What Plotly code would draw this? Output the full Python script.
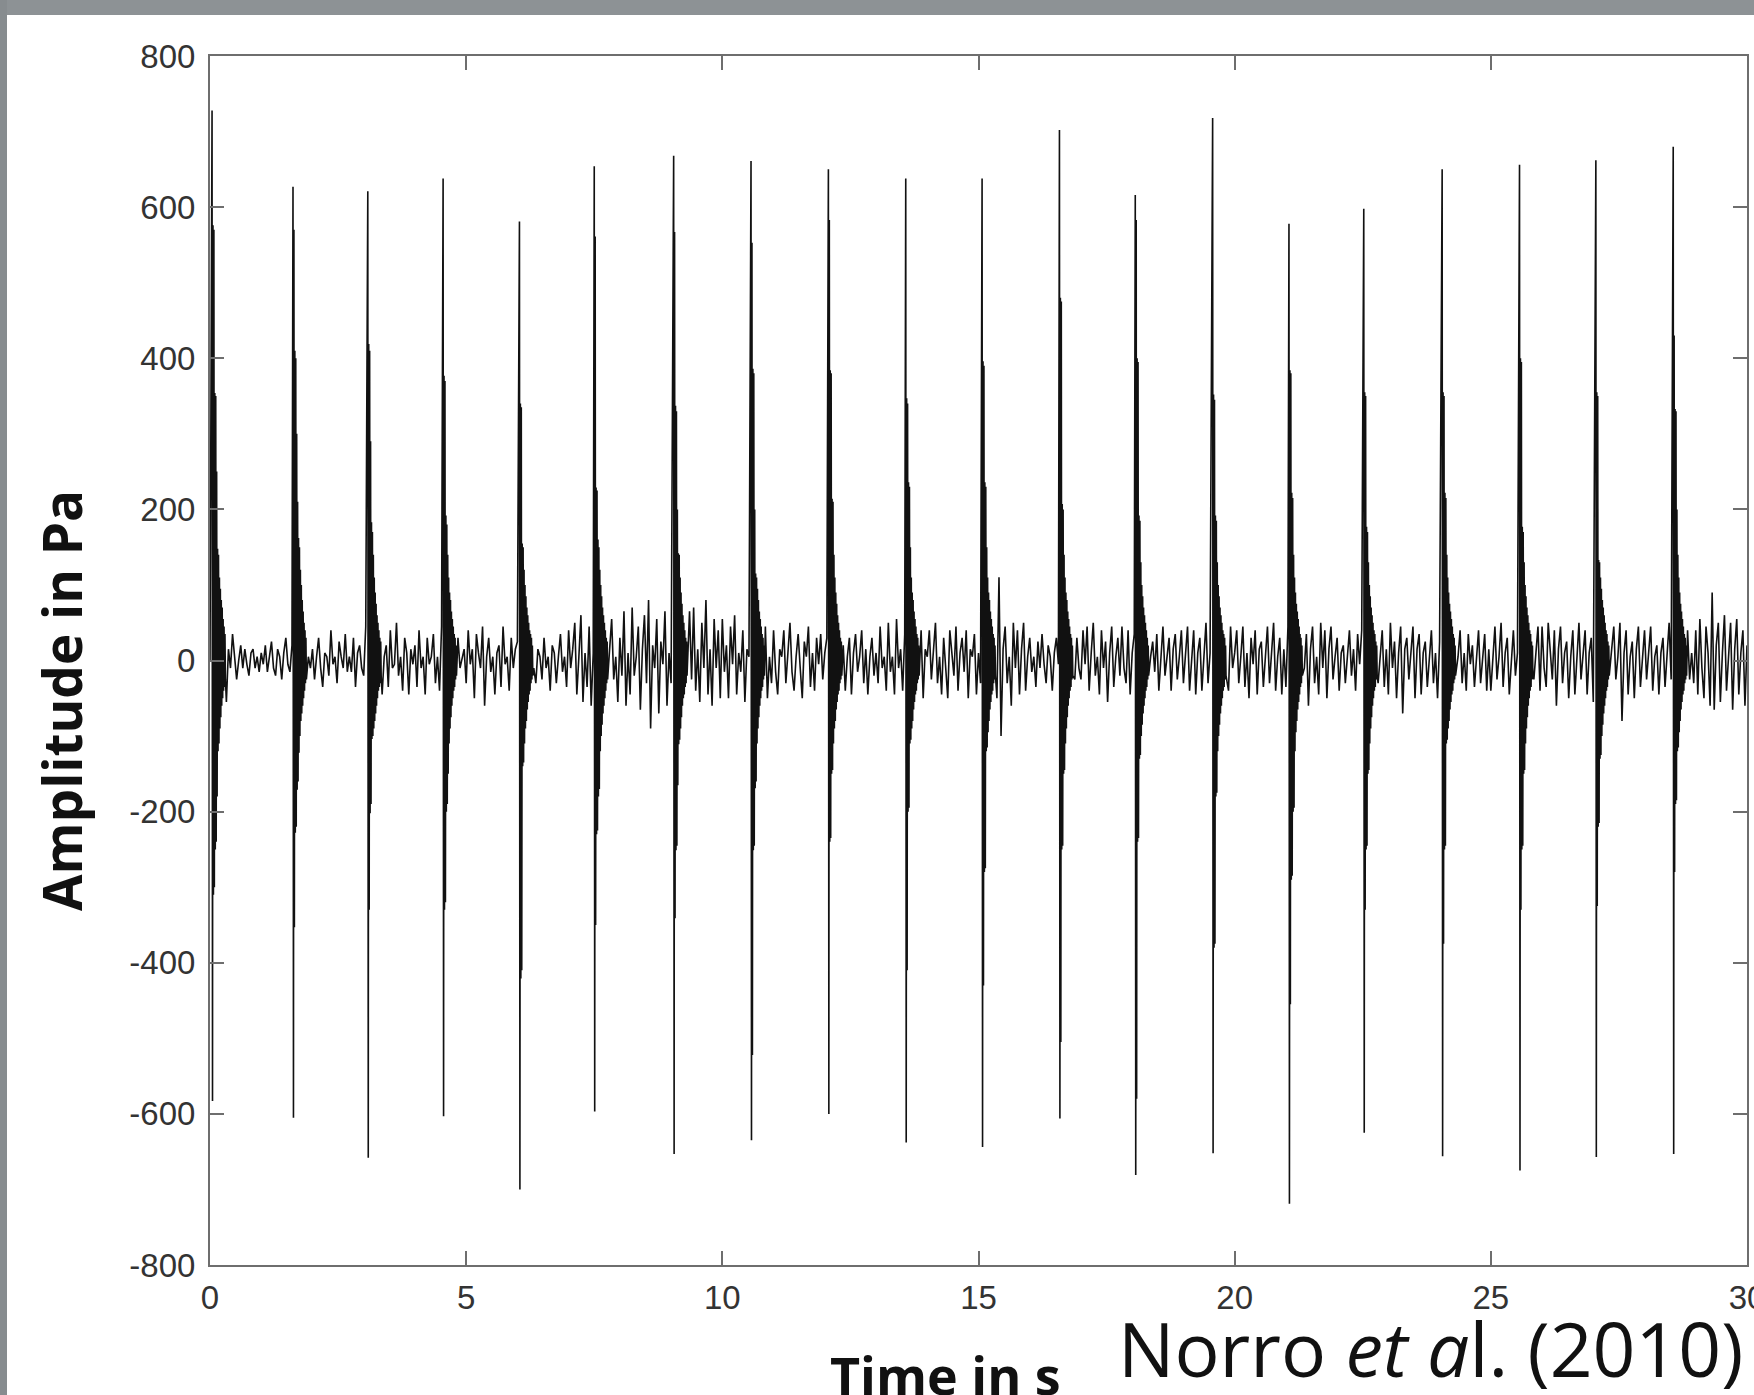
import plotly.graph_objects as go

# ---------------- data ----------------
# explosion (spike) onset times in s
spike_t = [0.04, 1.62, 3.08, 4.55, 6.04, 7.50, 9.05, 10.56, 12.07, 13.58,
           15.07, 16.58, 18.06, 19.57, 21.06, 22.52, 24.05, 25.56, 27.05, 28.56]

# successive positive extremes of each spike coda (Pa)
spike_pos = [
    [728, 576, 570, 354, 350, 250, 148, 140, 110, 95, 80, 70, 55, 45, 35],
    [627, 570, 410, 400, 300, 210, 162, 150, 120, 100, 80, 65, 50, 40, 30],
    [621, 419, 410, 290, 183, 170, 140, 110, 90, 75, 60, 50, 40, 30, 25],
    [638, 377, 370, 192, 180, 140, 110, 90, 80, 65, 55, 45, 35, 30, 20],
    [581, 340, 335, 155, 150, 120, 100, 85, 70, 60, 50, 40, 35, 30, 20],
    [654, 561, 229, 225, 160, 150, 120, 100, 85, 70, 60, 50, 40, 30, 25],
    [668, 567, 337, 330, 200, 142, 140, 110, 90, 75, 60, 50, 40, 30, 25],
    [661, 553, 386, 380, 200, 115, 110, 95, 80, 65, 55, 45, 35, 30, 20],
    [650, 583, 384, 380, 214, 210, 140, 110, 90, 75, 60, 50, 40, 30, 25],
    [638, 347, 340, 236, 230, 150, 110, 90, 80, 65, 55, 45, 35, 30, 20],
    [638, 396, 390, 236, 230, 150, 110, 90, 80, 65, 55, 45, 35, 30, 20],
    [702, 480, 475, 207, 200, 140, 110, 90, 80, 65, 55, 45, 35, 30, 20],
    [616, 583, 400, 395, 192, 185, 130, 100, 85, 70, 60, 50, 40, 30, 20],
    [718, 352, 345, 192, 185, 130, 100, 85, 70, 60, 50, 40, 35, 30, 20],
    [578, 384, 380, 222, 215, 140, 110, 90, 75, 65, 55, 45, 35, 30, 20],
    [598, 355, 350, 177, 170, 130, 100, 85, 70, 60, 50, 40, 35, 25, 20],
    [650, 355, 350, 222, 215, 140, 110, 90, 75, 65, 55, 45, 35, 30, 20],
    [656, 400, 395, 177, 170, 130, 100, 85, 70, 60, 50, 40, 35, 25, 20],
    [662, 355, 350, 133, 130, 110, 95, 80, 70, 60, 50, 40, 35, 25, 20],
    [680, 430, 333, 330, 200, 140, 110, 90, 75, 65, 55, 45, 35, 30, 20],
]
# successive negative extremes of each spike coda (Pa)
spike_neg = [
    [-583, -310, -300, -250, -240, -180, -120, -110, -90, -75, -60, -50, -40, -35, -25],
    [-605, -353, -228, -220, -171, -160, -122, -100, -80, -70, -60, -50, -40, -30, -25],
    [-658, -330, -202, -190, -104, -100, -90, -80, -70, -60, -50, -40, -35, -30, -20],
    [-603, -330, -320, -200, -190, -150, -110, -90, -75, -60, -50, -40, -35, -25, -20],
    [-700, -421, -410, -140, -135, -110, -90, -80, -65, -55, -45, -40, -30, -25, -20],
    [-597, -350, -230, -225, -180, -170, -120, -100, -85, -70, -60, -50, -40, -30, -25],
    [-653, -341, -251, -245, -165, -111, -105, -90, -75, -60, -50, -45, -35, -30, -20],
    [-635, -522, -251, -245, -169, -160, -110, -90, -75, -60, -50, -40, -35, -25, -20],
    [-600, -240, -235, -150, -145, -110, -90, -80, -65, -55, -45, -40, -30, -25, -20],
    [-638, -410, -200, -195, -110, -105, -90, -80, -65, -55, -45, -40, -30, -25, -20],
    [-644, -430, -280, -275, -120, -115, -95, -80, -65, -55, -45, -40, -30, -25, -20],
    [-606, -505, -250, -245, -150, -145, -110, -90, -75, -60, -50, -40, -35, -25, -20],
    [-681, -580, -240, -235, -130, -125, -100, -85, -70, -60, -50, -40, -35, -25, -20],
    [-652, -380, -375, -180, -175, -120, -100, -85, -70, -60, -50, -40, -35, -25, -20],
    [-719, -455, -290, -285, -200, -195, -120, -95, -80, -65, -55, -45, -35, -30, -20],
    [-625, -330, -250, -245, -150, -145, -110, -90, -75, -60, -50, -40, -35, -25, -20],
    [-656, -375, -250, -245, -110, -105, -90, -80, -65, -55, -45, -40, -30, -25, -20],
    [-675, -330, -250, -245, -150, -145, -110, -90, -75, -60, -50, -40, -35, -25, -20],
    [-657, -325, -220, -215, -130, -125, -100, -85, -70, -60, -50, -40, -35, -25, -20],
    [-653, -280, -190, -185, -120, -115, -95, -80, -65, -55, -45, -40, -30, -25, -20],
]
coda_dt = 0.009          # s between coda extremes

# background noise, one row per second, sampled every 0.04 s (Pa)
noise_dt = 0.04
noise_rows = [
    [0, 10, -20, 30, -40, 45, -35, 25, -55, 15, -10, 35, 5, -25, 0, 20, -10, 15, -5, -20, 10, 15, -10, 5, -15],
    [10, -5, 20, -15, 5, 25, -10, -20, 15, 5, -25, 10, 30, -5, -15, 20, 10, -25, 5, 15, -10, 35, -20, 5, -10],
    [15, -25, 5, 30, -10, -35, 10, 5, -20, 40, -5, 5, -30, 25, 5, -10, 35, -15, 5, -15, 30, -35, 10, 20, -10],
    [-20, 45, -5, 10, -40, 55, -15, 5, 35, -45, 5, 20, -35, 40, -10, -5, 50, -20, 5, -40, 30, 10, -45, 15, -5],
    [20, -35, 40, -10, 5, -45, 30, -5, 5, 35, -30, 5, -40, 45, -15, 10, -25, 40, -5, 10, -35, 30, -10, 5, 15],
    [-30, 40, -5, 15, -50, 35, 10, -10, 45, -60, 5, 30, -15, 5, -45, 10, 20, -35, 45, -5, 5, -40, 30, -10, 15],
    [25, -20, 5, 40, -35, 5, -10, 45, -10, -30, 15, 5, -25, 30, -10, 5, -40, 20, 10, -30, 5, 35, -15, 5, -35],
    [40, -10, 15, 50, -45, 5, 60, -55, 10, -35, 45, -60, 10, 20, -70, 50, -15, 5, 40, -45, 15, 55, -25, 5, -55],
    [30, -20, 65, -60, 10, -45, 70, -20, 5, 45, -65, 15, 60, -30, 80, -90, 20, -10, 55, -70, 25, -5, 65, -60, 10],
    [-30, 60, -15, 20, -55, 45, -170, 20, -20, 65, -25, 70, -40, 15, -55, 50, -10, 80, -45, 15, -60, 55, -10, 40, -50],
    [55, -15, 20, -50, 45, -5, 60, -45, 10, -15, 40, -55, 15, 5, 50, -40, 5, -45, 30, -10, 15, 45, -50, 5, -30],
    [40, -15, -45, 15, 5, 40, -30, 10, 50, -15, -40, 5, 35, -10, -50, 25, 5, 45, -35, 10, -40, 30, -5, 35, -25],
    [10, 30, -20, 5, -45, 25, -5, 40, -10, 20, -40, 5, 30, -45, 10, 35, -15, 5, 40, -30, 15, -45, 5, 30, -20],
    [10, -30, 45, -10, 5, -40, 50, -15, 5, -45, 55, -10, 15, -40, 35, -5, 50, -30, 10, -45, 30, -10, 40, -50, 15],
    [5, 40, -25, 10, 50, -30, 5, -45, 30, -10, -50, 40, 5, -20, 45, -40, 10, 30, -15, 40, -50, 15, 5, 35, -45],
    [10, -30, 20, -40, 5, 35, -45, 10, 60, -50, 110, -100, 15, 45, -30, 5, -60, 50, -10, 40, -45, 15, 50, -40, 5],
    [30, -15, 5, -35, 25, -10, 35, -5, -30, 20, 5, -40, 10, 30, -5, -35, 20, 5, -30, 35, -10, 15, -25, 30, -10],
    [-25, 40, -5, 45, -40, 10, 50, -20, 5, -45, 40, -10, 25, -55, 10, 45, -35, 5, 30, -20, 45, -10, -30, 40, -45],
    [10, 35, -40, 5, 20, -30, 15, 40, -35, 5, 25, -15, 35, -40, 10, 45, -20, 5, 30, -40, 15, 35, -25, 5, 40],
    [-30, 10, 45, -40, 5, 40, -45, 10, 30, -40, 5, 50, -30, 10, -35, 45, -20, 5, 40, -45, 10, 30, -40, 45, -10],
    [10, 40, -30, 5, 45, -35, 10, -50, 30, -5, 40, -45, 15, 25, -35, 5, 45, -30, 10, 50, -40, 5, 30, -45, 15],
    [-35, 45, -10, 35, -80, 25, 5, -40, 50, -10, 35, -60, 15, 45, -30, 5, -45, 50, -10, 40, -50, 15, 45, -25, 5],
    [30, -40, 10, 20, -30, 5, 40, -20, 15, -40, 35, -5, 40, -30, 10, -15, 35, -40, 5, 25, -30, 10, 40, -35, 15],
    [-45, 50, -10, 25, -50, 10, 45, -70, 15, 30, -25, 5, 45, -50, 15, 35, -45, 10, 25, -35, 5, 40, -30, 10, -50],
    [25, 40, -30, 5, 20, -40, 10, 35, -20, 5, 40, -30, 10, -40, 35, -5, 20, -35, 10, 40, -30, 5, 35, -40, 15],
    [-40, 10, 45, -25, 5, 50, -35, 10, 30, -45, 5, 40, -20, 10, 45, -40, 5, 30, -50, 15, 40, -25, 5, 45, -40],
    [45, -10, -35, 50, 5, -25, 40, -60, 15, 45, -30, 10, 25, -50, 5, 40, -45, 10, 50, -25, 5, 40, -45, 10, 30],
    [-55, 45, 5, -35, 50, -45, 10, 35, -75, 15, 45, -25, 5, 50, -80, 10, 40, -45, 5, 25, -50, 15, 45, -35, 10],
    [40, -25, 10, 45, -40, 5, 20, -45, 10, 30, -35, 5, 50, -25, 10, 40, -45, 15, 30, -50, 5, 40, -25, 10, -30],
    [40, -45, 55, -10, -50, 45, 10, -60, 90, -65, 20, 50, -55, 10, 60, -40, 5, 50, -65, 15, 55, -45, 10, 40, -60],
]
noise_last = 20          # value at t = 30 s

x_ticks = [0, 5, 10, 15, 20, 25, 30]
y_ticks = [-800, -600, -400, -200, 0, 200, 400, 600, 800]

# ---------------- assemble the trace ----------------
points = []
windows = []
for ts, pos, neg in zip(spike_t, spike_pos, spike_neg):
    seq = []
    for p, n in zip(pos, neg):
        seq += [p, n]
    for i, v in enumerate(seq):
        points.append((ts + i * coda_dt, v))
    windows.append((ts - 0.015, ts + len(seq) * coda_dt))

noise_vals = [v for row in noise_rows for v in row] + [noise_last]
for k, v in enumerate(noise_vals):
    t = round(k * noise_dt, 4)
    if any(a <= t <= b for a, b in windows):
        continue
    points.append((t, v))
points.sort()
tt = [p[0] for p in points]
vv = [p[1] for p in points]

# ---------------- figure ----------------
W, H = 1754, 1395
L, R, T, B = 210, 1747, 56, 1265          # plot-area edges in px

def px(x):
    return (x - L) / (R - L)

def py(y):
    return (B - y) / (B - T)

fig = go.Figure()
fig.add_trace(go.Scatter(x=tt, y=vv, mode="lines",
                         line=dict(color="#111111", width=1.6),
                         hoverinfo="skip", showlegend=False))

axis_common = dict(showline=True, linecolor="#6e6e6e", linewidth=2,
                   mirror="ticks", ticks="inside", ticklen=14, tickwidth=2,
                   tickcolor="#6e6e6e", showgrid=False, zeroline=False,
                   automargin=False, ticklabeloverflow="allow",
                   tickfont=dict(family="Liberation Sans", size=33, color="#333333"))

fig.update_layout(
    width=W, height=H, autosize=False,
    margin=dict(l=L, r=W - R, t=T, b=H - B, pad=0, autoexpand=False),
    paper_bgcolor="white", plot_bgcolor="white",
    xaxis=dict(range=[0, 30], tickvals=x_ticks, ticktext=[str(v) for v in x_ticks],
               ticklabelstandoff=2, **axis_common),
    yaxis=dict(range=[-800, 800], tickvals=y_ticks, ticktext=[str(v) for v in y_ticks],
               ticklabelstandoff=6, **axis_common),
    shapes=[
        dict(type="rect", xref="paper", yref="paper", x0=px(0), x1=px(W),
             y0=py(15), y1=py(0), fillcolor="#8d9295", line=dict(width=0), layer="above"),
        dict(type="rect", xref="paper", yref="paper", x0=px(0), x1=px(7),
             y0=py(H), y1=py(0), fillcolor="#878c8f", line=dict(width=0), layer="above"),
    ],
    annotations=[
        dict(text="<b>Amplitude in Pa</b>", xref="paper", yref="paper",
             x=px(61), y=py(701), textangle=-90, showarrow=False,
             xanchor="center", yanchor="middle",
             font=dict(family="Open Sans", size=53, color="#111111")),
        dict(text="<b>Time in s</b>", xref="paper", yref="paper",
             x=px(945), y=py(1374), showarrow=False,
             xanchor="center", yanchor="middle",
             font=dict(family="Open Sans", size=52, color="#111111")),
        dict(text="Norro <i>et a</i>l. (2010)", xref="paper", yref="paper",
             x=px(1116), y=py(1348), showarrow=False,
             xanchor="left", yanchor="middle",
             font=dict(family="Open Sans", size=75, color="#111111")),
    ],
)

fig.write_html("out.html", config={"displayModeBar": False, "staticPlot": True},
               post_script="document.body.style.margin='0';")
